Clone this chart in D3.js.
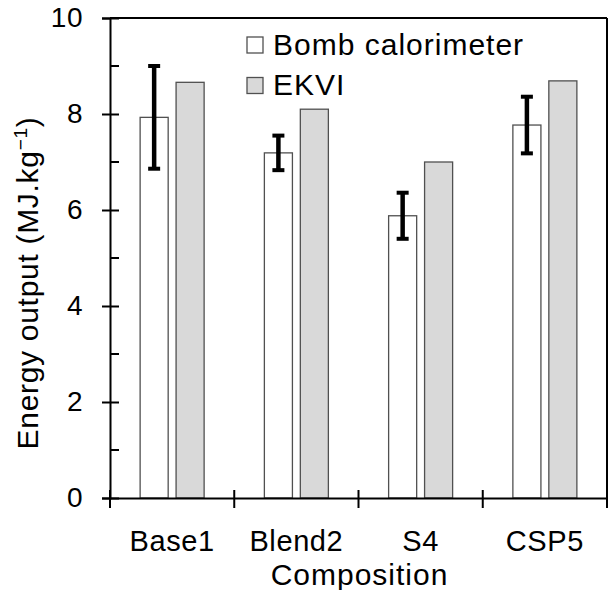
<!DOCTYPE html>
<html>
<head>
<meta charset="utf-8">
<script src="https://cdn.jsdelivr.net/npm/d3@7"></script>
<style>
  html, body { margin: 0; padding: 0; background: #fff; }
  svg text { font-family: "Liberation Sans", Arial, sans-serif; fill: #000; }
</style>
</head>
<body>
<svg id="chart" width="608" height="590"></svg>
<script>
// Energy output per composition: bomb calorimeter (with error) vs EKVI prediction
const categories = ["Base1", "Blend2", "S4", "CSP5"];
const bombValues = [7.93, 7.19, 5.88, 7.77];
const bombErrors = [1.07, 0.36, 0.48, 0.59];
const ekviValues = [8.66, 8.10, 7.00, 8.69];
const seriesNames = ["Bomb calorimeter", "EKVI"];
const yTickValues = [0, 2, 4, 6, 8, 10];
const yMinorTicks = [1, 3, 5, 7, 9];

const svg = d3.select("#chart");
const plotLeft = 110, plotRight = 607, plotTop = 18, plotBottom = 498;

const x = d3.scaleBand().domain(categories).range([plotLeft, plotRight]).padding(0);
const bw = x.bandwidth();
const inset = (bw - 64) / 2;
const x1 = d3.scaleBand().domain(seriesNames).range([inset, bw - inset]).paddingInner(0.22);
const y = d3.scaleLinear().domain([0, 10]).range([plotBottom, plotTop]);

const fills = { "Bomb calorimeter": "#ffffff", "EKVI": "#d9d9d9" };
const barStroke = "#505050";

const rows = categories.map((c, i) => ({
  cat: c,
  bars: [
    { s: "Bomb calorimeter", v: bombValues[i], e: bombErrors[i] },
    { s: "EKVI", v: ekviValues[i] }
  ]
}));

// bars
const groups = svg.append("g").selectAll("g").data(rows).join("g")
  .attr("transform", d => `translate(${x(d.cat)},0)`);
groups.selectAll("rect").data(d => d.bars).join("rect")
  .attr("x", d => x1(d.s))
  .attr("y", d => y(d.v))
  .attr("width", x1.bandwidth())
  .attr("height", d => y(0) - y(d.v))
  .attr("fill", d => fills[d.s])
  .attr("stroke", barStroke)
  .attr("stroke-width", 1.3);

// error bars on the calorimeter series
const err = groups.selectAll("g.err").data(d => d.bars.filter(b => b.e != null)).join("g")
  .attr("class", "err");
const cx = d => x1(d.s) + x1.bandwidth() / 2;
err.append("line")
  .attr("x1", cx).attr("x2", cx)
  .attr("y1", d => y(d.v + d.e)).attr("y2", d => y(d.v - d.e))
  .attr("stroke", "#000").attr("stroke-width", 4.5);
[1, -1].forEach(sign => {
  err.append("line")
    .attr("x1", d => cx(d) - 6).attr("x2", d => cx(d) + 6)
    .attr("y1", d => y(d.v + sign * d.e)).attr("y2", d => y(d.v + sign * d.e))
    .attr("stroke", "#000").attr("stroke-width", 4);
});

// frame: top and right borders
svg.append("line").attr("x1", plotLeft).attr("x2", plotRight).attr("y1", plotTop).attr("y2", plotTop)
  .attr("stroke", "#000").attr("stroke-width", 2);
svg.append("line").attr("x1", plotRight).attr("x2", plotRight).attr("y1", plotTop).attr("y2", plotBottom)
  .attr("stroke", "#000").attr("stroke-width", 2);

// y axis
const yAxis = svg.append("g").attr("transform", `translate(${plotLeft},0)`)
  .call(d3.axisLeft(y).tickValues(yTickValues).tickSize(8).tickPadding(20).tickFormat(d3.format("d")));
yAxis.select(".domain").attr("stroke", "#000").attr("stroke-width", 2);
yAxis.selectAll(".tick line").attr("x2", 9).attr("x1", -8).attr("stroke-width", 2);
yAxis.selectAll(".tick text").attr("font-size", 28).attr("x", -27)
  .attr("letter-spacing", 0.5)
  .attr("font-family", "'Liberation Sans', Arial, sans-serif");
yAxis.selectAll("line.minor").data(yMinorTicks).join("line")
  .attr("class", "minor")
  .attr("x1", 0).attr("x2", 9)
  .attr("y1", d => y(d)).attr("y2", d => y(d))
  .attr("stroke", "#000").attr("stroke-width", 2);

// x axis with ticks at category boundaries
const xAxis = svg.append("g").attr("transform", `translate(0,${plotBottom})`)
  .call(d3.axisBottom(x).tickSize(0).tickPadding(32));
xAxis.select(".domain").attr("stroke", "#000").attr("stroke-width", 2);
xAxis.selectAll(".tick text").attr("font-size", 29)
  .attr("letter-spacing", 0.6)
  .attr("font-family", "'Liberation Sans', Arial, sans-serif");
const bounds = categories.map(c => x(c)).concat([plotRight]);
xAxis.selectAll("line.bound").data(bounds).join("line")
  .attr("class", "bound")
  .attr("x1", d => d).attr("x2", d => d)
  .attr("y1", -8).attr("y2", 10)
  .attr("stroke", "#000").attr("stroke-width", 2);

// axis titles
svg.append("text")
  .attr("x", (plotLeft + plotRight) / 2 + 1).attr("y", 585)
  .attr("text-anchor", "middle").attr("font-size", 30)
  .attr("letter-spacing", 1)
  .text("Composition");

const yTitle = svg.append("text")
  .attr("transform", "translate(38,283) rotate(-90)")
  .attr("text-anchor", "middle").attr("font-size", 30)
  .attr("letter-spacing", 0.7);
yTitle.append("tspan").text("Energy output (MJ.kg");
yTitle.append("tspan").attr("font-size", 19).attr("dy", -11).text("\u22121");
yTitle.append("tspan").attr("dy", 11).text(")");

// legend
const legend = svg.append("g").selectAll("g").data(seriesNames).join("g")
  .attr("transform", (d, i) => `translate(247,${37 + i * 40.5})`);
legend.append("rect")
  .attr("width", 16).attr("height", 16)
  .attr("fill", d => fills[d]).attr("stroke", barStroke).attr("stroke-width", 1.3);
legend.append("text")
  .attr("x", 26).attr("y", 17.5)
  .attr("font-size", 30)
  .attr("letter-spacing", 1)
  .text(d => d);
</script>
</body>
</html>
